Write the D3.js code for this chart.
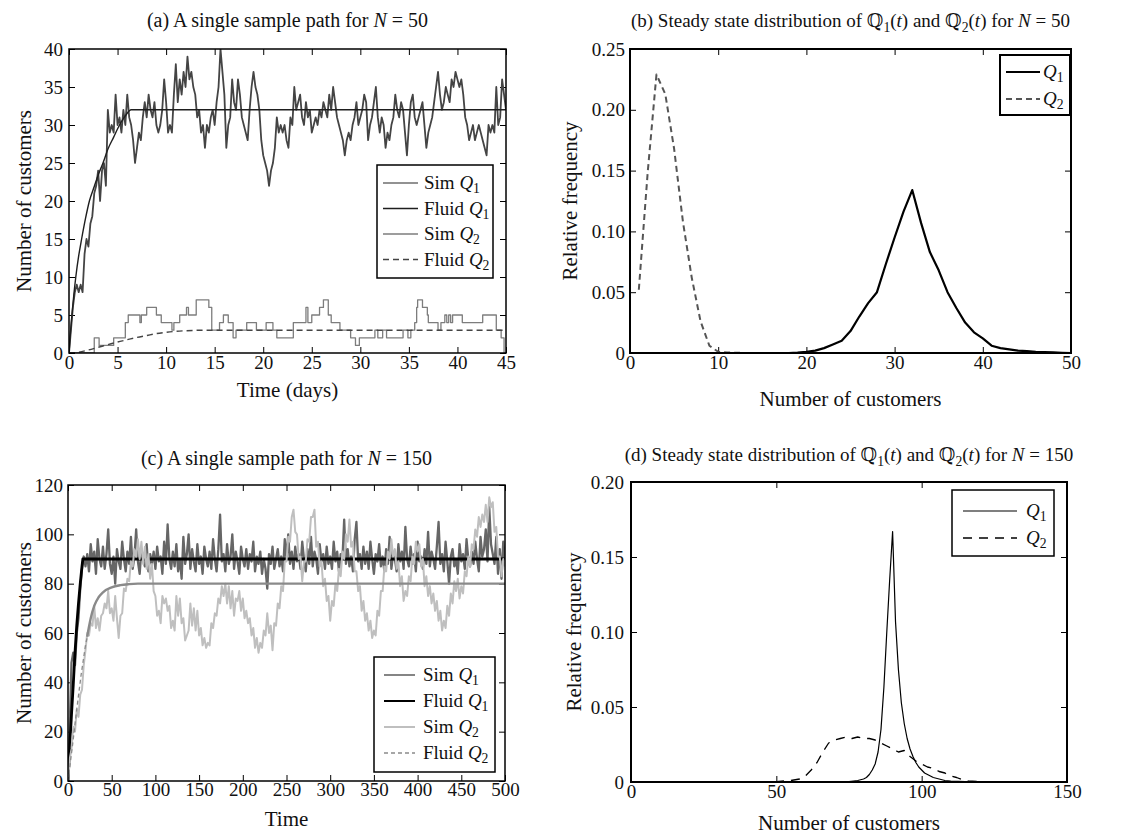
<!DOCTYPE html>
<html>
<head>
<meta charset="utf-8">
<script src="https://cdn.jsdelivr.net/npm/d3@7"></script>
<style>
  body { margin: 0; background: #fff; }
  svg { display: block; }
  svg text { font-family: "Liberation Serif", "Times New Roman", "DejaVu Serif", serif !important; fill: #111; }
</style>
</head>
<body>
<script>
// ---------------- (a) sample path, N = 50 ----------------
const simA_dt = 0.2;   // days between recorded states
const simA_Q1 = [
  0,3,6,8,9,8,9,8,13,15,
  14,17,18,21,22,24,20,24,25,22,
  32,29,30,29,34,30,31,29,32,30,
  34,31,30,28,25,27,29,28,31,33,
  31,34,32,31,33,30,29,30,32,36,
  33,29,30,29,34,38,33,36,34,37,
  35,39,36,37,35,34,31,32,29,30,
  27,30,29,31,32,30,33,35,40,37,
  34,27,30,31,36,33,32,36,34,31,
  30,29,28,32,35,37,35,34,32,28,
  26,25,24,22,24,25,27,31,29,30,
  29,30,28,27,31,30,35,32,33,34,
  31,30,33,31,32,29,30,31,30,32,
  31,33,32,31,34,32,35,33,31,30,
  29,28,26,28,29,28,30,31,33,30,
  31,32,34,33,28,30,31,33,35,31,
  29,31,30,27,29,28,30,31,34,32,
  31,33,32,29,26,30,33,34,31,30,
  31,32,33,30,27,29,30,31,33,35,
  37,34,32,33,35,34,33,36,35,37,
  36,35,36,34,31,30,28,29,30,28,
  29,30,29,28,27,26,30,29,30,29,
  35,30,31,36,34,32
];
const fluidA_Q1_t = [0,0.15,0.3,0.5,0.7,1.0,1.3,1.7,2.1,2.6,3.0,3.5,4.0,4.6,5.2,5.8,6.4,45];
const fluidA_Q1   = [0,2.7,5,7.7,10,12.8,15,17.7,20,21.9,23.4,25,26.8,28.4,30,31.2,32,32];
const simA_Q2_t = [0,2.6,3.1,4.6,5.8,6.1,7.3,7.45,8.0,9.0,9.5,10.6,10.8,11.4,12.1,12.3,13.1,14.4,14.7,15.5,
  15.9,16.4,16.9,17.2,18.3,19.3,20.3,21.0,21.4,23.1,24.4,24.6,25.0,25.8,26.2,26.7,27.0,27.9,29.0,29.5,
  29.9,31.5,31.8,32.3,32.7,34.4,34.9,35.2,35.6,35.8,35.9,36.4,36.9,37.0,38.0,38.3,38.7,38.9,39.1,39.3,
  39.5,40.5,42.6,44.0,44.5,44.8,45];
const simA_Q2 = [0,2,1,2,4,5,4,5,6,5,4,3,4,5,6,5,7,6,3,4,
  5,4,2,3,4,3,4,3,2,4,6,4,5,6,7,5,4,3,2,1,
  2,3,2,3,2,3,2,3,4,6,7,6,5,4,3,4,5,4,5,4,
  5,4,5,3,2,0,0];
const fluidA_Q2_t = [0,1,2,3,4,5,6,7,8,9,10,11,12,13,14,45];
const fluidA_Q2   = [0,0.1,0.4,0.75,1.1,1.45,1.75,2.05,2.3,2.55,2.72,2.85,2.93,2.98,3,3];

// ---------------- (b) steady state distribution, N = 50 ----------------
const distB_Q1_x0 = 0;
const distB_Q1 = [
  0,0,0,0,0,0,0,0,0,0,
  0,0,0,0,0,0,0,0,0,0.0003,
  0.001,0.002,0.004,0.007,0.01,0.018,0.03,0.041,0.05,0.073,
  0.095,0.116,0.134,0.107,0.083,0.068,0.05,0.037,0.025,0.017,
  0.012,0.006,0.004,0.003,0.002,0.0015,0.001,0.0008,0.0005,0.0002,
  0
];
const distB_Q2_x0 = 1;
const distB_Q2 = [
  0.052,0.148,0.229,0.213,0.168,0.108,0.062,0.026,0.006,0.001,
  0.0005,0.0002,0,0,0,0,0,0,0,0,
  0,0,0,0,0,0,0,0,0,0,
  0,0,0,0,0,0,0,0,0,0,
  0,0,0,0,0,0,0,0,0,0
];

// ---------------- (c) sample path, N = 150 ----------------
const simC_dt = 2;
const simC_Q1 = [
  0,22,48,52,47,60,66,78,86,91,
  87,92,85,96,89,93,84,98,90,87,
  95,86,92,102,88,84,91,80,94,89,
  86,97,90,85,93,88,99,86,91,102,
  89,84,94,90,87,96,85,92,88,93,
  86,95,89,91,84,97,88,104,90,86,
  93,87,96,85,90,82,99,88,92,100,
  86,94,89,85,96,88,91,84,95,90,
  87,93,86,98,90,85,94,108,89,92,
  85,96,88,91,100,86,93,89,84,95,
  90,87,94,86,92,89,97,85,91,88,
  93,84,90,86,78,92,88,95,86,90,
  94,87,91,85,98,90,100,88,93,86,
  95,89,92,86,97,90,85,94,88,99,
  87,93,90,84,96,89,92,86,95,88,
  91,86,97,89,93,85,92,90,106,88,
  94,87,91,85,98,105,89,92,86,95,
  88,93,86,97,90,84,92,89,96,87,
  91,85,94,88,99,86,92,90,85,96,
  89,93,86,103,90,87,95,88,92,85,
  97,89,91,86,94,88,101,87,93,90,
  86,95,105,88,92,85,97,89,80,91,
  94,87,90,84,96,89,92,86,98,90,
  87,93,88,97,90,85,99,91,94,102,
  89,111,96,92,88,99,84,94,82,97,
  90
];
const simC_Q2 = [
  0,9,13,22,20,29,26,35,37,47,
  53,60,59,64,63,71,62,66,61,67,
  68,72,70,77,68,70,65,75,66,58,
  67,68,78,77,82,81,89,87,94,91,
  98,90,97,88,95,86,92,82,88,77,
  75,67,69,64,75,72,74,69,71,62,
  65,61,75,67,74,64,66,57,59,61,
  72,63,70,61,69,59,62,55,58,54,
  56,55,64,62,68,67,74,72,79,75,
  80,72,79,70,77,67,74,73,77,69,
  74,66,69,64,66,59,62,54,58,52,
  56,54,61,59,68,60,63,53,64,63,
  72,70,79,77,89,89,99,97,107,110,
  101,100,90,91,81,89,89,98,97,107,
  107,110,95,97,87,89,79,82,73,75,
  65,73,71,80,77,86,83,93,90,100,
  97,106,95,97,85,85,77,79,69,73,
  65,68,61,65,58,61,59,69,67,77,
  77,87,85,93,90,98,91,94,86,89,
  79,83,73,77,75,83,81,91,88,97,
  93,96,87,90,79,83,75,79,72,76,
  69,73,65,69,61,65,62,71,67,76,
  72,81,77,82,74,79,76,85,83,91,
  87,96,94,102,99,107,103,108,105,112,
  105,115,111,113,101,103,91,91,83,90,
  87
];
const fluidC_Q1_t = [0,2,4,6,8,10,12,14,16,17,500];
const fluidC_Q1   = [0,14,27,39,52,63,72,80,87,90,90];
const fluidC_Q2_t = [0,5,10,15,20,22,24,26,30,35,40,50,60,70,80,90,500];
const fluidC_Q2   = [0,14,29,43,55,58.5,62.5,66,71,74.5,76.5,78.5,79.4,79.8,80,80,80];

// ---------------- (d) steady state distribution, N = 150 ----------------
const distD_Q1_x = [0,70,75,78,80,81,82,83,84,85,86,87,88,89,90,91,92,93,94,95,96,97,98,99,100,101,102,103,104,106,108,110,115,120,150];
const distD_Q1   = [0,0,0.0003,0.001,0.002,0.003,0.005,0.008,0.012,0.02,0.035,0.063,0.1,0.135,0.167,0.107,0.075,0.053,0.039,0.029,0.022,0.017,0.013,0.01,0.008,0.006,0.005,0.004,0.003,0.002,0.001,0.0006,0.0002,0,0];
const distD_Q2_x = [0,40,50,55,58,60,62,64,66,68,70,72,74,76,78,80,82,84,86,88,90,92,94,96,98,100,102,104,106,108,110,112,114,116,120,125,150];
const distD_Q2   = [0,0,0.0003,0.001,0.002,0.004,0.008,0.013,0.02,0.026,0.028,0.029,0.03,0.029,0.03,0.029,0.029,0.028,0.026,0.024,0.022,0.02,0.021,0.017,0.014,0.012,0.01,0.009,0.007,0.006,0.004,0.003,0.0015,0.0008,0.0002,0,0];

// ---------------- drawing ----------------
const W = 1139, H = 834;
const SERIF = '"Liberation Serif", "Times New Roman", "DejaVu Serif", serif';
const svg = d3.select("body").append("svg").attr("width", W).attr("height", H);

function rich(sel, parts, shift) {
  let back = 0;
  parts.forEach(([t, st]) => {
    const ts = sel.append("tspan").text(t);
    if (st === "i") ts.attr("font-style", "italic");
    if (st === "sub") { ts.attr("font-size", "72%").attr("dy", shift); back = -shift; }
    else if (back) { ts.attr("dy", back); back = 0; }
  });
}

function panel(cfg) {
  const g = svg.append("g");
  const x = d3.scaleLinear().domain(cfg.xDomain).range([cfg.left, cfg.right]);
  const y = d3.scaleLinear().domain(cfg.yDomain).range([cfg.bottom, cfg.top]);
  const clipId = "clip-" + cfg.key;
  svg.append("clipPath").attr("id", clipId).append("rect")
    .attr("x", cfg.left).attr("y", cfg.top)
    .attr("width", cfg.right - cfg.left).attr("height", cfg.bottom - cfg.top);

  const tl = 6;
  const styleAxis = a => {
    a.attr("font-family", null).attr("font-size", null);
    a.select(".domain").remove();
    a.selectAll(".tick line").attr("stroke", "#000").attr("stroke-width", 1);
    a.selectAll(".tick text").attr("fill", "#111")
      .style("font-family", SERIF).style("font-size", "19px");
  };
  g.append("g").attr("transform", `translate(0,${cfg.bottom})`)
    .call(d3.axisBottom(x).tickValues(cfg.xTicks).tickSize(-tl).tickPadding(cfg.xPad).tickFormat(cfg.xFmt))
    .call(styleAxis);
  g.append("g").attr("transform", `translate(0,${cfg.top})`)
    .call(d3.axisTop(x).tickValues(cfg.xTicks).tickSize(-tl).tickFormat(""))
    .call(styleAxis);
  g.append("g").attr("transform", `translate(${cfg.left},0)`)
    .call(d3.axisLeft(y).tickValues(cfg.yTicks).tickSize(-tl).tickPadding(cfg.yPad).tickFormat(cfg.yFmt))
    .call(styleAxis);
  g.append("g").attr("transform", `translate(${cfg.right},0)`)
    .call(d3.axisRight(y).tickValues(cfg.yTicks).tickSize(-tl).tickFormat(""))
    .call(styleAxis);

  const plot = g.append("g").attr("clip-path", `url(#${clipId})`);

  g.append("rect").attr("x", cfg.left).attr("y", cfg.top)
    .attr("width", cfg.right - cfg.left).attr("height", cfg.bottom - cfg.top)
    .attr("fill", "none").attr("stroke", "#000").attr("stroke-width", cfg.frameW);

  // titles and axis labels
  const title = g.append("text").attr("x", (cfg.left + cfg.right) / 2).attr("y", cfg.titleY)
    .attr("text-anchor", "middle").style("font-size", cfg.titleSize + "px");
  rich(title, cfg.title, 5);
  g.append("text").attr("x", (cfg.left + cfg.right) / 2).attr("y", cfg.xLabelY)
    .attr("text-anchor", "middle").style("font-size", "21px").text(cfg.xLabel);
  g.append("text").attr("transform", `translate(${cfg.yLabelX},${(cfg.top + cfg.bottom) / 2}) rotate(-90)`)
    .attr("text-anchor", "middle").style("font-size", "21px").text(cfg.yLabel);

  return { g, plot, x, y };
}

function drawSeries(p, pts, s, curve) {
  const line = d3.line().x(d => p.x(d[0])).y(d => p.y(d[1])).curve(curve || d3.curveLinear);
  p.plot.append("path").datum(pts).attr("d", line)
    .attr("fill", "none").attr("stroke", s.color).attr("stroke-width", s.width)
    .attr("stroke-dasharray", s.dash || null).attr("stroke-linejoin", "round");
}

function legend(p, box, rows) {
  const lg = p.g.append("g");
  lg.append("rect").attr("x", box.x).attr("y", box.y).attr("width", box.w).attr("height", box.h)
    .attr("fill", "#fff").attr("stroke", "#000").attr("stroke-width", box.sw);
  rows.forEach((r, i) => {
    const cy = box.y + box.first + i * box.step;
    lg.append("line").attr("x1", box.lx1).attr("x2", box.lx2).attr("y1", cy).attr("y2", cy)
      .attr("stroke", r.s.lc || r.s.color).attr("stroke-width", r.s.lw || r.s.width)
      .attr("stroke-dasharray", r.s.dash || null);
    const t = lg.append("text").attr("x", box.tx).attr("y", cy + 6).style("font-size", "19px");
    rich(t, r.label, 4);
  });
}

const zip = (xs, ys) => xs.map((v, i) => [v, ys[i]]);
const regular = (dt, ys, x0) => ys.map((v, i) => [(x0 || 0) + i * dt, v]);
const fmt2 = v => v === 0 ? "0" : d3.format(".2f")(v);

// ---- (a)
const pa = panel({
  key: "a", left: 69, right: 506, top: 49, bottom: 353,
  xDomain: [0, 45], yDomain: [0, 40],
  xTicks: d3.range(0, 46, 5), yTicks: d3.range(0, 41, 5),
  xFmt: d3.format("d"), yFmt: d3.format("d"), xPad: 2, yPad: 6, frameW: 1.5,
  title: [["(a) A single sample path for "], ["N", "i"], [" = 50"]], titleY: 27, titleSize: 20,
  xLabel: "Time (days)", xLabelY: 397, yLabel: "Number of customers", yLabelX: 31
});
const stA = {
  sim1: { color: "#444", width: 1.8, lc: "#6e6e6e", lw: 1.5 },
  fl1: { color: "#1e1e1e", width: 1.4 },
  sim2: { color: "#7d7d7d", width: 1.3 },
  fl2: { color: "#444", width: 1.4, dash: "6,4" }
};
drawSeries(pa, regular(simA_dt, simA_Q1), stA.sim1);
drawSeries(pa, zip(fluidA_Q1_t, fluidA_Q1), stA.fl1, d3.curveMonotoneX);
drawSeries(pa, zip(simA_Q2_t, simA_Q2), stA.sim2, d3.curveStepAfter);
drawSeries(pa, zip(fluidA_Q2_t, fluidA_Q2), stA.fl2, d3.curveMonotoneX);
legend(pa, { x: 377, y: 165, w: 116, h: 113, sw: 1.5, first: 18, step: 25.5, lx1: 383, lx2: 418, tx: 424 }, [
  { s: stA.sim1, label: [["Sim "], ["Q", "i"], ["1", "sub"]] },
  { s: stA.fl1, label: [["Fluid "], ["Q", "i"], ["1", "sub"]] },
  { s: stA.sim2, label: [["Sim "], ["Q", "i"], ["2", "sub"]] },
  { s: stA.fl2, label: [["Fluid "], ["Q", "i"], ["2", "sub"]] }
]);

// ---- (b)
const pb = panel({
  key: "b", left: 630, right: 1071, top: 49, bottom: 353,
  xDomain: [0, 50], yDomain: [0, 0.25],
  xTicks: d3.range(0, 51, 10), yTicks: [0, 0.05, 0.10, 0.15, 0.20, 0.25],
  xFmt: d3.format("d"), yFmt: fmt2, xPad: 2, yPad: 5, frameW: 2,
  title: [["(b) Steady state distribution of \u211A"], ["1", "sub"], ["("], ["t", "i"], [") and \u211A"], ["2", "sub"], ["("], ["t", "i"], [") for "], ["N", "i"], [" = 50"]],
  titleY: 27, titleSize: 19, xLabel: "Number of customers", xLabelY: 406, yLabel: "Relative frequency", yLabelX: 577
});
const stB = { q1: { color: "#000", width: 2.2 }, q2: { color: "#555", width: 2, dash: "6,4" } };
drawSeries(pb, regular(1, distB_Q1, distB_Q1_x0), stB.q1);
drawSeries(pb, regular(1, distB_Q2, distB_Q2_x0), stB.q2);
legend(pb, { x: 1000, y: 55, w: 70, h: 60, sw: 2, first: 17, step: 27, lx1: 1006, lx2: 1040, tx: 1043 }, [
  { s: stB.q1, label: [["Q", "i"], ["1", "sub"]] },
  { s: stB.q2, label: [["Q", "i"], ["2", "sub"]] }
]);

// ---- (c)
const pc = panel({
  key: "c", left: 68, right: 505, top: 485, bottom: 781,
  xDomain: [0, 500], yDomain: [0, 120],
  xTicks: d3.range(0, 501, 50), yTicks: d3.range(0, 121, 20),
  xFmt: d3.format("d"), yFmt: d3.format("d"), xPad: 1, yPad: 5, frameW: 1.5,
  title: [["(c) A single sample path for "], ["N", "i"], [" = 150"]], titleY: 465, titleSize: 20,
  xLabel: "Time", xLabelY: 826, yLabel: "Number of customers", yLabelX: 31
});
const stC = {
  sim1: { color: "#666", width: 2.3, lw: 1.6 },
  fl1: { color: "#000", width: 2.8, lw: 2 },
  sim2: { color: "#bfbfbf", width: 2, lw: 2 },
  fl2: { color: "#8a8a8a", width: 2.4 },
  fl2Dash: { color: "#8a8a8a", width: 1.3, dash: "4,3" }
};
const fluidC2 = zip(fluidC_Q2_t, fluidC_Q2);
drawSeries(pc, regular(simC_dt, simC_Q1), stC.sim1);
drawSeries(pc, zip(fluidC_Q1_t, fluidC_Q1), stC.fl1);
drawSeries(pc, regular(simC_dt, simC_Q2), stC.sim2);
drawSeries(pc, fluidC2.filter(d => d[0] <= 22), stC.fl2Dash);
drawSeries(pc, fluidC2.filter(d => d[0] >= 22), stC.fl2, d3.curveMonotoneX);
legend(pc, { x: 374, y: 657, w: 121, h: 115, sw: 1.5, first: 18, step: 26, lx1: 384, lx2: 415, tx: 423 }, [
  { s: stC.sim1, label: [["Sim "], ["Q", "i"], ["1", "sub"]] },
  { s: stC.fl1, label: [["Fluid "], ["Q", "i"], ["1", "sub"]] },
  { s: stC.sim2, label: [["Sim "], ["Q", "i"], ["2", "sub"]] },
  { s: stC.fl2Dash, label: [["Fluid "], ["Q", "i"], ["2", "sub"]] }
]);

// ---- (d)
const pd = panel({
  key: "d", left: 631, right: 1067, top: 482, bottom: 782,
  xDomain: [0, 150], yDomain: [0, 0.20],
  xTicks: [0, 50, 100, 150], yTicks: [0, 0.05, 0.10, 0.15, 0.20],
  xFmt: d3.format("d"), yFmt: fmt2, xPad: 2, yPad: 7, frameW: 2,
  title: [["(d) Steady state distribution of \u211A"], ["1", "sub"], ["("], ["t", "i"], [") and \u211A"], ["2", "sub"], ["("], ["t", "i"], [") for "], ["N", "i"], [" = 150"]],
  titleY: 461, titleSize: 19, xLabel: "Number of customers", xLabelY: 830, yLabel: "Relative frequency", yLabelX: 581
});
const stD = { q1: { color: "#000", width: 1.2 }, q2: { color: "#000", width: 1.3, dash: "9,7" } };
drawSeries(pd, zip(distD_Q1_x, distD_Q1), stD.q1);
drawSeries(pd, zip(distD_Q2_x, distD_Q2), stD.q2);
legend(pd, { x: 952, y: 490, w: 102, h: 66, sw: 1.5, first: 21, step: 27, lx1: 963, lx2: 1017, tx: 1026 }, [
  { s: stD.q1, label: [["Q", "i"], ["1", "sub"]] },
  { s: stD.q2, label: [["Q", "i"], ["2", "sub"]] }
]);
</script>
</body>
</html>
